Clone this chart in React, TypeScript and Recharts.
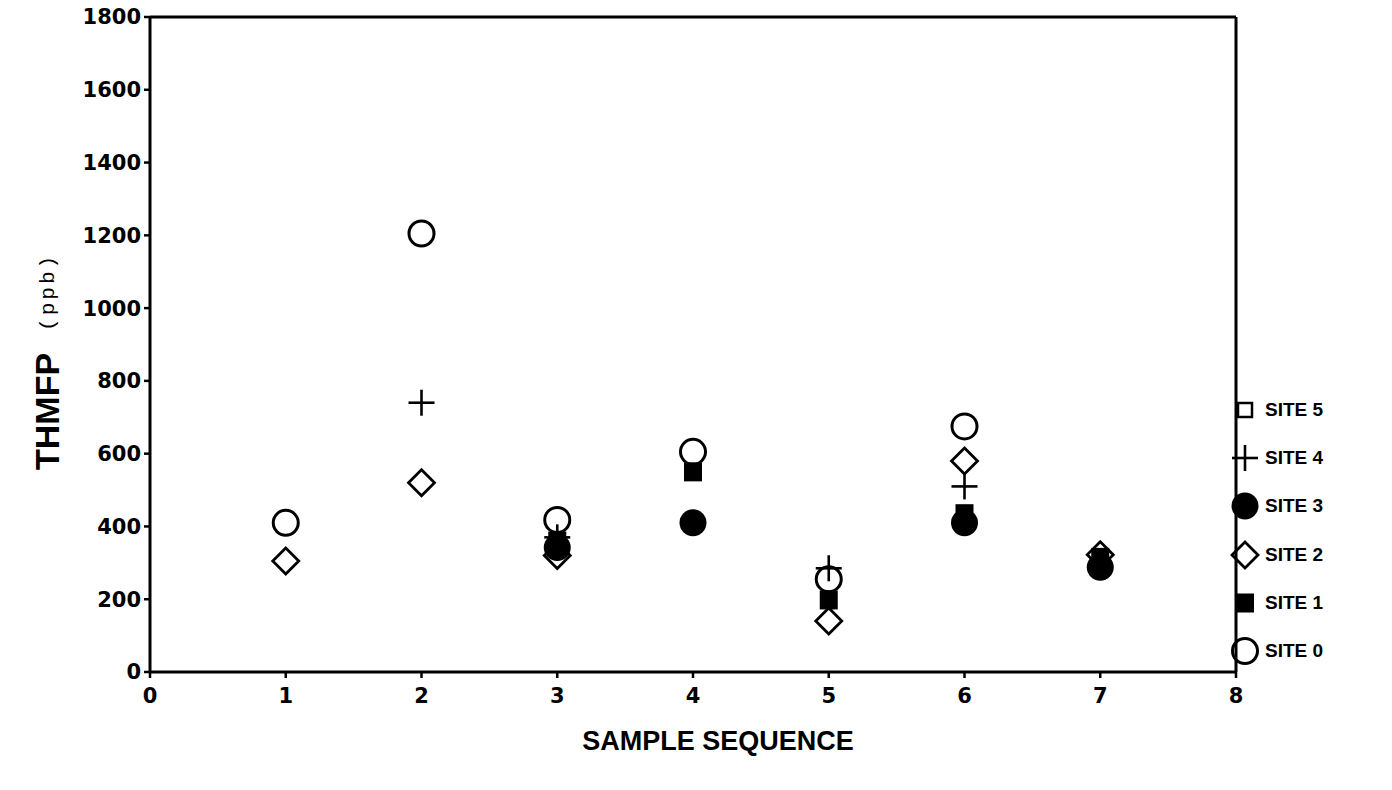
import { ScatterChart, Scatter, XAxis, YAxis, ReferenceLine, Label } from 'recharts';

// sample sequence axis + THMFP axis ticks
const X_TICKS = [0, 1, 2, 3, 4, 5, 6, 7, 8];
const Y_TICKS = [0, 200, 400, 600, 800, 1000, 1200, 1400, 1600, 1800];

// [sample sequence, THMFP (ppb)]
const SITE5: [number, number][] = [];
const SITE4: [number, number][] = [[2, 740], [3, 370], [5, 285], [6, 510]];
const SITE3: [number, number][] = [[3, 342], [4, 410], [6, 410], [7, 288]];
const SITE2: [number, number][] = [[1, 305], [2, 520], [3, 320], [5, 140], [6, 580], [7, 322]];
const SITE1: [number, number][] = [[3, 360], [4, 550], [5, 198], [6, 435], [7, 315]];
const SITE0: [number, number][] = [[1, 410], [2, 1205], [3, 418], [4, 605], [5, 255], [6, 675]];

const toPts = (arr: [number, number][]) => arr.map(([x, y]) => ({ x, y }));

const INK = '#000';

// marker glyphs, drawn around (cx, cy)
const glyphs: Record<string, (cx: number, cy: number) => JSX.Element> = {
  openSquare: (cx, cy) => <rect x={cx - 7} y={cy - 7} width={14} height={14} fill="none" stroke={INK} strokeWidth={2.5} />,
  plus: (cx, cy) => (
    <g stroke={INK} strokeWidth={2.6}>
      <line x1={cx - 13} y1={cy} x2={cx + 13} y2={cy} />
      <line x1={cx} y1={cy - 13} x2={cx} y2={cy + 13} />
    </g>
  ),
  dot: (cx, cy) => <circle cx={cx} cy={cy} r={13.5} fill={INK} />,
  diamond: (cx, cy) => (
    <polygon points={`${cx},${cy - 13} ${cx + 13},${cy} ${cx},${cy + 13} ${cx - 13},${cy}`} fill="none" stroke={INK} strokeWidth={2.8} />
  ),
  square: (cx, cy) => <rect x={cx - 9} y={cy - 9.5} width={18} height={19} fill={INK} />,
  ring: (cx, cy) => <circle cx={cx} cy={cy} r={12.5} fill="none" stroke={INK} strokeWidth={3} />,
};

const SERIES = [
  { name: 'SITE 5', data: SITE5, glyph: 'openSquare' },
  { name: 'SITE 4', data: SITE4, glyph: 'plus' },
  { name: 'SITE 3', data: SITE3, glyph: 'dot' },
  { name: 'SITE 2', data: SITE2, glyph: 'diamond' },
  { name: 'SITE 1', data: SITE1, glyph: 'square' },
  { name: 'SITE 0', data: SITE0, glyph: 'ring' },
];

const tickStyle = { fontFamily: 'DejaVu Sans', fontWeight: 'bold', fontSize: 21, fill: INK };

// rotated title: reads bottom to top, starts just below the 600 tick
const YTitle = ({ viewBox }: any) => {
  const bx = viewBox.x + 59;
  const by = viewBox.y + viewBox.height - 202;
  return (
    <text transform={`rotate(-90 ${bx} ${by})`} x={bx} y={by} textAnchor="start" fill={INK}>
      <tspan fontFamily="Liberation Sans" fontWeight="bold" fontSize={34}>THMFP</tspan>
      <tspan fontFamily="Liberation Mono" fontSize={21} letterSpacing={3} dx={22} dy={-5}>(ppb)</tspan>
    </text>
  );
};

const XTitle = ({ viewBox }: any) => (
  <text
    x={viewBox.x + viewBox.width / 2 + 25}
    y={viewBox.y + 69}
    textAnchor="middle"
    dominantBaseline="central"
    fontFamily="Liberation Sans"
    fontWeight="bold"
    fontSize={27}
    fill={INK}
  >
    SAMPLE SEQUENCE
  </text>
);

export default function App() {
  return (
    <div style={{ position: 'relative', width: 1392, height: 790, background: '#fff' }}>
      <style>{`body{margin:0}`}</style>
      <ScatterChart width={1392} height={790} margin={{ top: 17, right: 156, bottom: 0, left: 0 }}>
        <XAxis
          type="number"
          dataKey="x"
          domain={[0, 8]}
          ticks={X_TICKS}
          interval={0}
          height={118}
          tickSize={6}
          tickMargin={10}
          axisLine={{ stroke: INK, strokeWidth: 3 }}
          tickLine={{ stroke: INK, strokeWidth: 2.5 }}
          tick={tickStyle}
        >
          <Label content={XTitle} />
        </XAxis>
        <YAxis
          type="number"
          dataKey="y"
          domain={[0, 1800]}
          ticks={Y_TICKS}
          interval={0}
          width={150}
          tickSize={6}
          tickMargin={3}
          axisLine={{ stroke: INK, strokeWidth: 3 }}
          tickLine={{ stroke: INK, strokeWidth: 2.5 }}
          tick={tickStyle}
        >
          <Label content={YTitle} />
        </YAxis>
        <ReferenceLine y={1800} stroke={INK} strokeWidth={3} />
        <ReferenceLine x={8} stroke={INK} strokeWidth={3} />
        {SERIES.map((s) => (
          <Scatter
            key={s.name}
            name={s.name}
            data={toPts(s.data)}
            isAnimationActive={false}
            shape={(p: any) => glyphs[s.glyph](p.cx, p.cy)}
          />
        ))}
      </ScatterChart>

      {/* legend sits outside the box on the right */}
      <div style={{ position: 'absolute', left: 1230, top: 386 }}>
        {SERIES.map((s) => (
          <div key={s.name} style={{ display: 'flex', alignItems: 'center', height: 48.2 }}>
            <svg width={30} height={32}>
              {glyphs[s.glyph](15, 16)}
            </svg>
            <span style={{ fontFamily: 'Liberation Sans', fontWeight: 'bold', fontSize: 19, marginLeft: 5, color: INK }}>
              {s.name}
            </span>
          </div>
        ))}
      </div>
    </div>
  );
}
